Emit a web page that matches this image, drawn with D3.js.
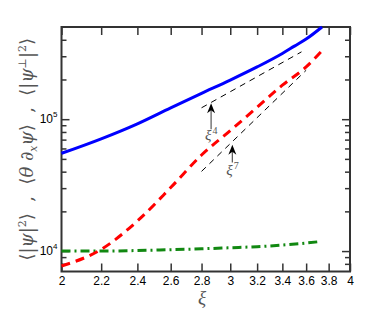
<!DOCTYPE html>
<html>
<head>
<meta charset="utf-8">
<script src="https://cdn.jsdelivr.net/npm/d3@7"></script>
<style>
  body { margin: 0; background: #fff; }
  svg { display: block; }
  .tick text { font-family: "Liberation Sans", Arial, sans-serif; font-size: 12px; fill: #000; }
  .domain { display: none; }
</style>
</head>
<body>
<div id="chart"></div>
<script>
(function () {
    "use strict";

    // values
    var xiBlue  = [2, 2.2, 2.4, 2.6, 2.8, 3.0, 3.2, 3.4, 3.5, 3.6, 3.74];
    var psiPerp = [55100, 71000, 92300, 122000, 157000, 198000, 249000, 315000, 358000, 405000, 500000];

    var xiRed   = [2, 2.2, 2.4, 2.6, 2.8, 3.0, 3.2, 3.4, 3.6, 3.75];
    var thetaDx = [7700, 10300, 16900, 30300, 53500, 82000, 123000, 181000, 249000, 338000];

    var xiGreen = [2, 2.2, 2.4, 2.6, 2.8, 3.0, 3.2, 3.4, 3.6, 3.72];
    var psiSq   = [10000, 10000, 10100, 10250, 10400, 10600, 10800, 11100, 11500, 11800];

    // guide slopes (end points)
    var guide4X = [2.8, 3.56],  guide4Y = [122000, 324000];
    var guide7X = [2.8, 3.60],  guide7Y = [40200, 235000];

    // arrows: x, tail value, tip value
    var arrows = [
        { x: 2.865, from: 84000, to: 132000, label: "4", ly: 70000 },
        { x: 3.015, from: 47000, to: 64000,  label: "7", ly: 37500 }
    ];

    var xTicks = [2, 2.2, 2.4, 2.6, 2.8, 3, 3.2, 3.4, 3.6, 3.8, 4];
    var yMajor = [1e4, 1e5];
    var yMinor = [8000, 9000, 20000, 30000, 40000, 50000, 60000, 70000, 80000, 90000, 200000, 300000, 400000];

    var W = 368, H = 318;
    var L = 61.5, R = 350, T = 27, B = 271.5;

    var svg = d3.select("#chart").append("svg")
        .attr("width", W).attr("height", H);

    var x = d3.scaleLog().domain([2, 4]).range([L, R]);
    var y = d3.scaleLog().domain([7000, 5e5]).range([B, T]);

    var axisColor = "#333";

    // axes
    svg.append("g").attr("transform", "translate(0," + B + ")")
        .call(d3.axisBottom(x).tickValues(xTicks).tickSize(-8).tickPadding(5)
            .tickFormat(function (d) { return String(d); }));
    svg.append("g").attr("transform", "translate(0," + T + ")")
        .call(d3.axisTop(x).tickValues(xTicks).tickSize(-8).tickFormat(""));

    svg.append("g").attr("transform", "translate(" + L + ",0)")
        .call(d3.axisLeft(y).tickValues(yMajor).tickSize(-8).tickFormat(""));
    svg.append("g").attr("transform", "translate(" + L + ",0)")
        .call(d3.axisLeft(y).tickValues(yMinor).tickSize(-5).tickFormat(""));
    svg.append("g").attr("transform", "translate(" + R + ",0)")
        .call(d3.axisRight(y).tickValues(yMajor).tickSize(-8).tickFormat(""));
    svg.append("g").attr("transform", "translate(" + R + ",0)")
        .call(d3.axisRight(y).tickValues(yMinor).tickSize(-5).tickFormat(""));

    svg.selectAll(".tick line").attr("stroke", axisColor).attr("stroke-width", 1.5);

    // y labels 10^n
    yMajor.forEach(function (v) {
        var t = svg.append("text")
            .attr("x", L - 4).attr("y", y(v) + 4)
            .attr("text-anchor", "end")
            .style("font-family", "Liberation Sans, Arial, sans-serif")
            .style("font-size", "12px");
        t.append("tspan").text("10");
        t.append("tspan").attr("dy", -6).style("font-size", "8px")
            .text(String(Math.round(Math.log10(v))));
    });

    // frame
    svg.append("rect")
        .attr("x", L).attr("y", T).attr("width", R - L).attr("height", B - T)
        .attr("fill", "none").attr("stroke", axisColor).attr("stroke-width", 2);

    var line = d3.line()
        .x(function (d) { return x(d[0]); })
        .y(function (d) { return y(d[1]); })
        .curve(d3.curveMonotoneX);

    function zip(a, b) { return a.map(function (v, i) { return [v, b[i]]; }); }

    var plot = svg.append("g");

    // guides
    [[guide4X, guide4Y], [guide7X, guide7Y]].forEach(function (g) {
        plot.append("path").datum(zip(g[0], g[1]))
            .attr("d", d3.line().x(function (d) { return x(d[0]); }).y(function (d) { return y(d[1]); }))
            .attr("fill", "none").attr("stroke", "#000").attr("stroke-width", 1)
            .attr("stroke-dasharray", "6,5");
    });

    plot.append("path").datum(zip(xiGreen, psiSq)).attr("d", line)
        .attr("fill", "none").attr("stroke", "#118811").attr("stroke-width", 3)
        .attr("stroke-dasharray", "9,4,2,4");

    plot.append("path").datum(zip(xiRed, thetaDx)).attr("d", line)
        .attr("fill", "none").attr("stroke", "#ff0000").attr("stroke-width", 3)
        .attr("stroke-dasharray", "9,6");

    plot.append("path").datum(zip(xiBlue, psiPerp)).attr("d", line)
        .attr("fill", "none").attr("stroke", "#0000ff").attr("stroke-width", 3);

    // arrows
    var gray = "#555";
    arrows.forEach(function (a) {
        var ax = x(a.x), y0 = y(a.from), y1 = y(a.to);
        plot.append("line").attr("x1", ax).attr("x2", ax).attr("y1", y0).attr("y2", y1 + 4)
            .attr("stroke", gray).attr("stroke-width", 1.2);
        plot.append("path")
            .attr("d", "M" + ax + "," + y1 + " L" + (ax + 4) + "," + (y1 + 10) +
                " L" + ax + "," + (y1 + 7) + " L" + (ax - 4) + "," + (y1 + 10) + "Z")
            .attr("fill", "#000");
        var t = plot.append("text")
            .attr("x", ax - 6).attr("y", y(a.ly))
            .style("font-family", "Liberation Serif, DejaVu Serif, serif")
            .style("font-size", "15px").attr("fill", gray);
        t.append("tspan").style("font-style", "italic").text("\u03be");
        t.append("tspan").attr("dy", -6).attr("dx", 1).style("font-size", "10px").text(a.label);
    });

    // x title
    svg.append("text").attr("x", 202).attr("y", 304)
        .attr("text-anchor", "middle")
        .style("font-family", "Liberation Serif, DejaVu Serif, serif")
        .style("font-style", "italic").style("font-size", "19px")
        .attr("fill", gray).text("\u03be");

    // y title
    var yt = svg.append("text")
        .attr("transform", "translate(33," + ((T + B) / 2) + ") rotate(-90)")
        .attr("text-anchor", "middle")
        .style("font-family", "DejaVu Serif, Liberation Serif, serif")
        .style("font-size", "18px").attr("fill", gray);
    var parts = [
        ["\u27e8|", 0, 0], ["\u03c8", 1, 0], ["|", 0, 0], ["2", 0, 1], ["\u27e9", 0, -1],
        ["  ,  ", 0, 0],
        ["\u27e8", 0, 0], ["\u03b8 \u2202", 1, 0], ["x", 1, 2], ["\u03c8", 1, -2], ["\u27e9", 0, 0],
        ["  ,  ", 0, 0],
        ["\u27e8|", 0, 0], ["\u03c8", 1, 0], ["\u22a5", 0, 1], ["|", 0, -1], ["2", 0, 1], ["\u27e9", 0, -1]
    ];
    parts.forEach(function (p) {
        var s = yt.append("tspan").text(p[0]).attr("xml:space", "preserve");
        if (p[1]) s.style("font-style", "italic");
        if (p[2] === 1) s.attr("dy", -7).style("font-size", "11px");
        else if (p[2] === 2) s.attr("dy", 4).style("font-size", "11px");
        else if (p[2] === -1) s.attr("dy", 7);
        else if (p[2] === -2) s.attr("dy", -4);
    });
    yt.style("white-space", "pre");
}());
</script>
</body>
</html>
